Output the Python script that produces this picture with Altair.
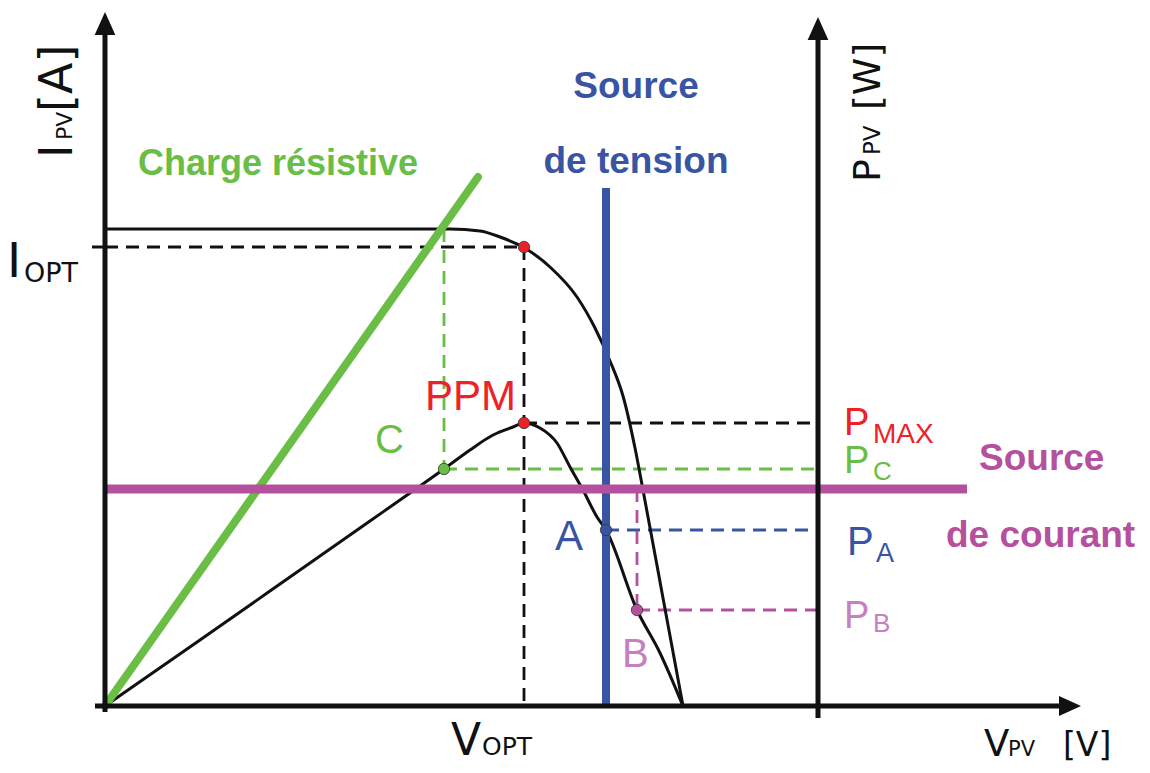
import altair as alt
import pandas as pd

# ---- data (chart units: V to the right, I / P upward, origin at the axes crossing) ----
iv_v = [0, 195, 315, 345, 375, 395, 418, 445, 472, 490, 505, 518, 530, 538, 558, 578]
iv_i = [477, 477, 477, 477, 475, 469, 459, 439, 409, 378, 345, 310, 258, 216, 108, 0]

pv_v = [0, 95, 195, 265, 305, 339, 365, 388, 408, 419, 435, 452, 465, 478, 492, 501, 532, 555, 578]
pv_p = [0, 66, 136, 185, 213, 237, 256, 271, 279, 283, 278, 263, 239, 216, 189, 176, 96, 53, 0]

V_OPT, I_OPT, P_MAX = 419, 459, 283
V_C, I_C, P_C = 339, 477, 237
V_A, P_A = 501, 176
V_B, P_B = 532, 96
I_SRC = 217          # current source level
V_PAX = 713          # position of the power axis
LOAD_END = (373, 529)
VSRC_TOP = 518
ISRC_END = 862

GREEN = "#6abd45"
BLUE = "#3a54a4"
MAG = "#b5509e"
RED = "#ec2227"
PINK = "#c67fbf"
BLACK = "#111111"

xs = alt.Scale(domain=[-97, 1037], nice=False, zero=False)
ys = alt.Scale(domain=[-59, 698], nice=False, zero=False)
X = lambda f: alt.X(f, scale=xs, axis=None)
Y = lambda f: alt.Y(f, scale=ys, axis=None)


def segs(rows, width, dash=None, cap="butt"):
    d = pd.DataFrame(rows, columns=["x", "y", "x2", "y2", "c"])
    kw = dict(strokeWidth=width, strokeCap=cap)
    if dash:
        kw["strokeDash"] = dash
    return alt.Chart(d).mark_rule(**kw).encode(
        x=X("x:Q"), y=Y("y:Q"), x2="x2:Q", y2="y2:Q",
        color=alt.Color("c:N", scale=None))


def txt(s, x, y, size, color, font="Liberation Sans", weight="normal", angle=0, align="left"):
    d = pd.DataFrame({"x": [x], "y": [y], "t": [s]})
    return alt.Chart(d).mark_text(font=font, fontSize=size, fontWeight=weight, color=color,
                                  align=align, baseline="alphabetic", angle=angle).encode(
        x=X("x:Q"), y=Y("y:Q"), text="t:N")


dashed = segs([
    (0, I_OPT, V_OPT, I_OPT, BLACK),
    (V_OPT, I_OPT, V_OPT, 0, BLACK),
    (V_OPT, P_MAX, V_PAX, P_MAX, BLACK),
    (V_C, I_C, V_C, P_C, GREEN),
    (V_C, P_C, V_PAX, P_C, GREEN),
    (V_A, P_A, V_PAX, P_A, BLUE),
    (V_B, I_SRC, V_B, P_B, MAG),
    (V_B, P_B, V_PAX, P_B, MAG),
], 2.8, dash=[13, 8])

iv = alt.Chart(pd.DataFrame({"v": iv_v, "i": iv_i})).mark_line(
    color=BLACK, strokeWidth=3, interpolate="monotone").encode(x=X("v:Q"), y=Y("i:Q"))
pv = alt.Chart(pd.DataFrame({"v": pv_v, "p": pv_p})).mark_line(
    color=BLACK, strokeWidth=3, interpolate="monotone").encode(x=X("v:Q"), y=Y("p:Q"))

load = segs([(0, 0, LOAD_END[0], LOAD_END[1], GREEN)], 8, cap="round")
vsrc = segs([(V_A, 0, V_A, VSRC_TOP, BLUE)], 8)
isrc = segs([(0, I_SRC, ISRC_END, I_SRC, MAG)], 9)

axes = segs([
    (0, -6, 0, 682, BLACK),
    (-10, 0, 966, 0, BLACK),
    (V_PAX, -12, V_PAX, 677, BLACK),
], 5)
tick = segs([(-13, I_OPT, 0, I_OPT, BLACK)], 3)

arrows_up = alt.Chart(pd.DataFrame({"x": [0, V_PAX], "y": [682.5, 677.5]})).mark_point(
    shape="M-0.9,1L0.9,1L0,-1Z", size=529, filled=True, color=BLACK, opacity=1).encode(
    x=X("x:Q"), y=Y("y:Q"))
arrow_right = alt.Chart(pd.DataFrame({"x": [965], "y": [0]})).mark_point(
    shape="M-1,-0.9L-1,0.9L1,0Z", size=484, filled=True, color=BLACK, opacity=1).encode(
    x=X("x:Q"), y=Y("y:Q"))

dots = alt.Chart(pd.DataFrame({
    "x": [V_OPT, V_OPT, V_C, V_A, V_B],
    "y": [I_OPT, P_MAX, P_C, P_A, P_B],
    "c": [RED, RED, GREEN, BLUE, MAG],
})).mark_point(filled=True, size=130, opacity=1, stroke="#333333", strokeWidth=0.8).encode(
    x=X("x:Q"), y=Y("y:Q"), fill=alt.Fill("c:N", scale=None))

DJ = "DejaVu Sans"
texts = [
    txt("Charge résistive", 33, 531, 36, GREEN, weight="bold"),
    txt("Source", 531, 608, 37, BLUE, weight="bold", align="center"),
    txt("de tension", 531, 533, 37, BLUE, weight="bold", align="center"),
    txt("I", -98, 429, 48, BLACK, font=DJ),
    txt("OPT", -81, 424, 27, BLACK, font=DJ),
    txt("PPM", 320, 296, 42, RED),
    txt("C", 270, 253, 40, GREEN),
    txt("A", 450, 156, 42, BLUE),
    txt("B", 517, 39, 40, PINK),
    txt("P", 739, 271, 38, RED),
    txt("MAX", 768, 263, 28, RED),
    txt("P", 739, 233, 38, GREEN),
    txt("C", 768, 226, 26, GREEN),
    txt("P", 742, 151, 40, BLUE),
    txt("A", 771, 144, 27, BLUE),
    txt("P", 739, 78, 38, PINK),
    txt("B", 768, 74, 26, PINK),
    txt("Source", 874, 236, 37, MAG, weight="bold"),
    txt("de courant", 841, 159, 37, MAG, weight="bold"),
    txt("V", 346, -49, 44, BLACK, font=DJ),
    txt("OPT", 377, -49, 25, BLACK, font=DJ),
    txt("V", 879, -50, 37, BLACK, font=DJ),
    txt("PV", 903, -50, 21, BLACK, font=DJ),
    txt("[V]", 958, -50, 33, BLACK, font=DJ),
    txt("I", -33, 548, 46, BLACK, font=DJ, angle=270),
    txt("PV", -33, 566, 22, BLACK, font=DJ, angle=270),
    txt("[A]", -33, 594, 46, BLACK, font=DJ, angle=270),
    txt("P", 775, 524, 38, BLACK, font=DJ, angle=270),
    txt("PV", 775, 551, 23, BLACK, font=DJ, angle=270),
    txt("[W]", 775, 596, 38, BLACK, font=DJ, angle=270),
]

chart = alt.layer(dashed, iv, pv, load, vsrc, isrc, axes, tick, dots, arrows_up, arrow_right,
                  *texts).properties(
    width=1134, height=757, autosize="none", padding=0
).configure_view(stroke=None)

chart.save("out.html", embed_options={"renderer": "svg", "actions": False})
